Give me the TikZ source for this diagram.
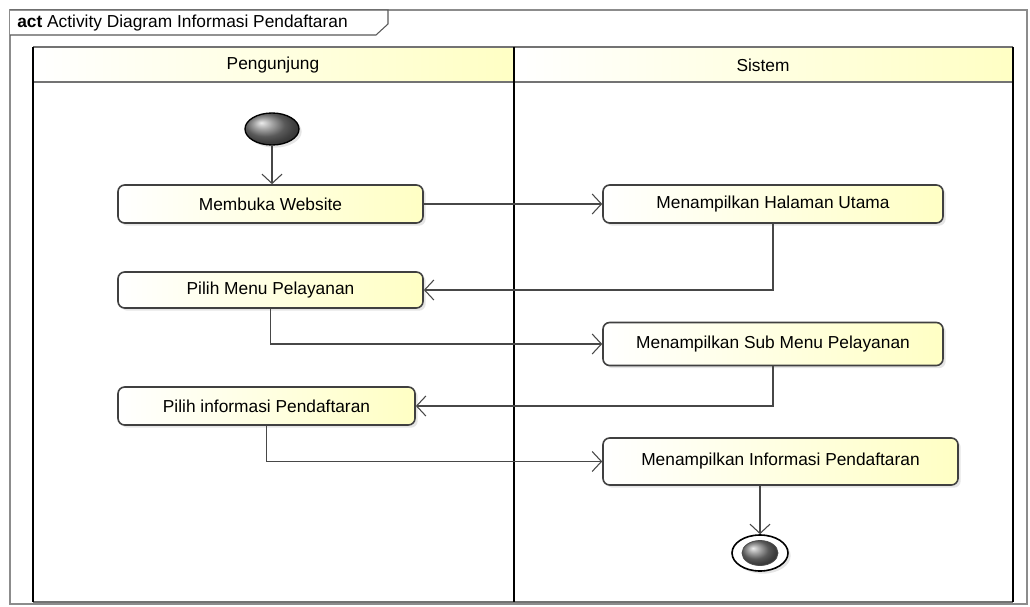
\documentclass[tikz,border=0pt]{standalone}
\usepackage{fontspec}
\setmainfont{Liberation Sans}
\usetikzlibrary{arrows.meta,shapes.geometric,shadows,calc}
\definecolor{lightyel}{RGB}{255,255,196}
\def\pu{0.75pt}
\begin{document}
\begin{tikzpicture}[x=0.75pt,y=-0.75pt,
  every node/.style={font=\fontsize{13}{15}\selectfont},
  act/.style={rectangle, rounded corners=5pt, draw=black!75, line width=1.2pt,
    left color=white, right color=lightyel, inner sep=0pt,
    drop shadow={shadow xshift=2pt,shadow yshift=-2pt,opacity=0.2}},
  flow/.style={draw=black!72, line width=0.8pt, -{Straight Barb[length=7pt,width=15pt,line width=0.8pt]}},
  lane/.style={black, line width=2.2pt},
  hline/.style={black!55, line width=1.5pt}]
\useasboundingbox (0,0) rectangle (1030,606);
\fill[white] (0,0) rectangle (1030,606);
% frame
\draw[black!45, line width=0.8pt] (10,10) rectangle (1027,604);
\draw[black!65, line width=0.8pt, fill=white] (10,10) -- (388,10) -- (388,24) -- (376,35) -- (10,35);
\node[anchor=west, inner sep=0pt] (title) at (17,23) {\textbf{act} Activity Diagram Informasi Pendaftaran};
% swimlanes
\shade[left color=white, right color=lightyel] (33,47) rectangle (514,82);
\shade[left color=white, right color=lightyel] (514,47) rectangle (1013,82);
\draw[hline] (33,47) -- (1013,47);
\draw[hline] (33,82) -- (1013,82);
\draw[hline] (33,602) -- (1013,602);
\draw[lane] (33,47) -- (33,602);
\draw[lane] (514,47) -- (514,602);
\draw[lane] (1013,47) -- (1013,602);
\node (lane1) at (273,65) {Pengunjung};
\node (lane2) at (763,65) {Sistem};
% start
\node[ellipse, draw=black, line width=1pt, shading=ball, ball color=black!50,
  minimum width=54*\pu, minimum height=32*\pu, inner sep=0pt,
  drop shadow={shadow xshift=2pt,shadow yshift=-2pt,opacity=0.2}] (start) at (272,129) {};
% actions
\node[act, minimum width=305*\pu, minimum height=38*\pu] (mw) at (270.5,204) {Membuka Website};
\node[act, minimum width=340*\pu, minimum height=38*\pu] (hu) at (773,204) {Menampilkan Halaman Utama};
\node[act, minimum width=305*\pu, minimum height=36*\pu] (pm) at (270.5,290) {Pilih Menu Pelayanan};
\node[act, minimum width=340*\pu, minimum height=43*\pu] (sm) at (773,344) {Menampilkan Sub Menu Pelayanan};
\node[act, minimum width=297*\pu, minimum height=38*\pu] (pi) at (266.5,406) {Pilih informasi Pendaftaran};
\node[act, minimum width=355*\pu, minimum height=47*\pu] (mi) at (780.5,461.5) {Menampilkan Informasi Pendaftaran};
% final
\node[ellipse, draw=black, line width=1.2pt, fill=white,
  minimum width=56*\pu, minimum height=36*\pu, inner sep=0pt,
  drop shadow={shadow xshift=2pt,shadow yshift=-2pt,opacity=0.2}] (fin) at (760,553) {};
\node[ellipse, draw=black!70, line width=0.6pt, shading=ball, ball color=black!50,
  minimum width=36*\pu, minimum height=25*\pu, inner sep=0pt] (finin) at (760,553) {};
% flows
\draw[flow] (start.south) -- (start.south |- mw.north);
\draw[flow] (mw) -- (hu);
\draw[flow] (hu.south) |- (pm.east);
\draw[flow] (pm.south) |- (sm.west);
\draw[flow] (sm.south) |- (pi.east);
\draw[flow] (pi.south) |- (mi.west);
\draw[flow] (fin |- mi.south) -- (fin);
\end{tikzpicture}
\end{document}
